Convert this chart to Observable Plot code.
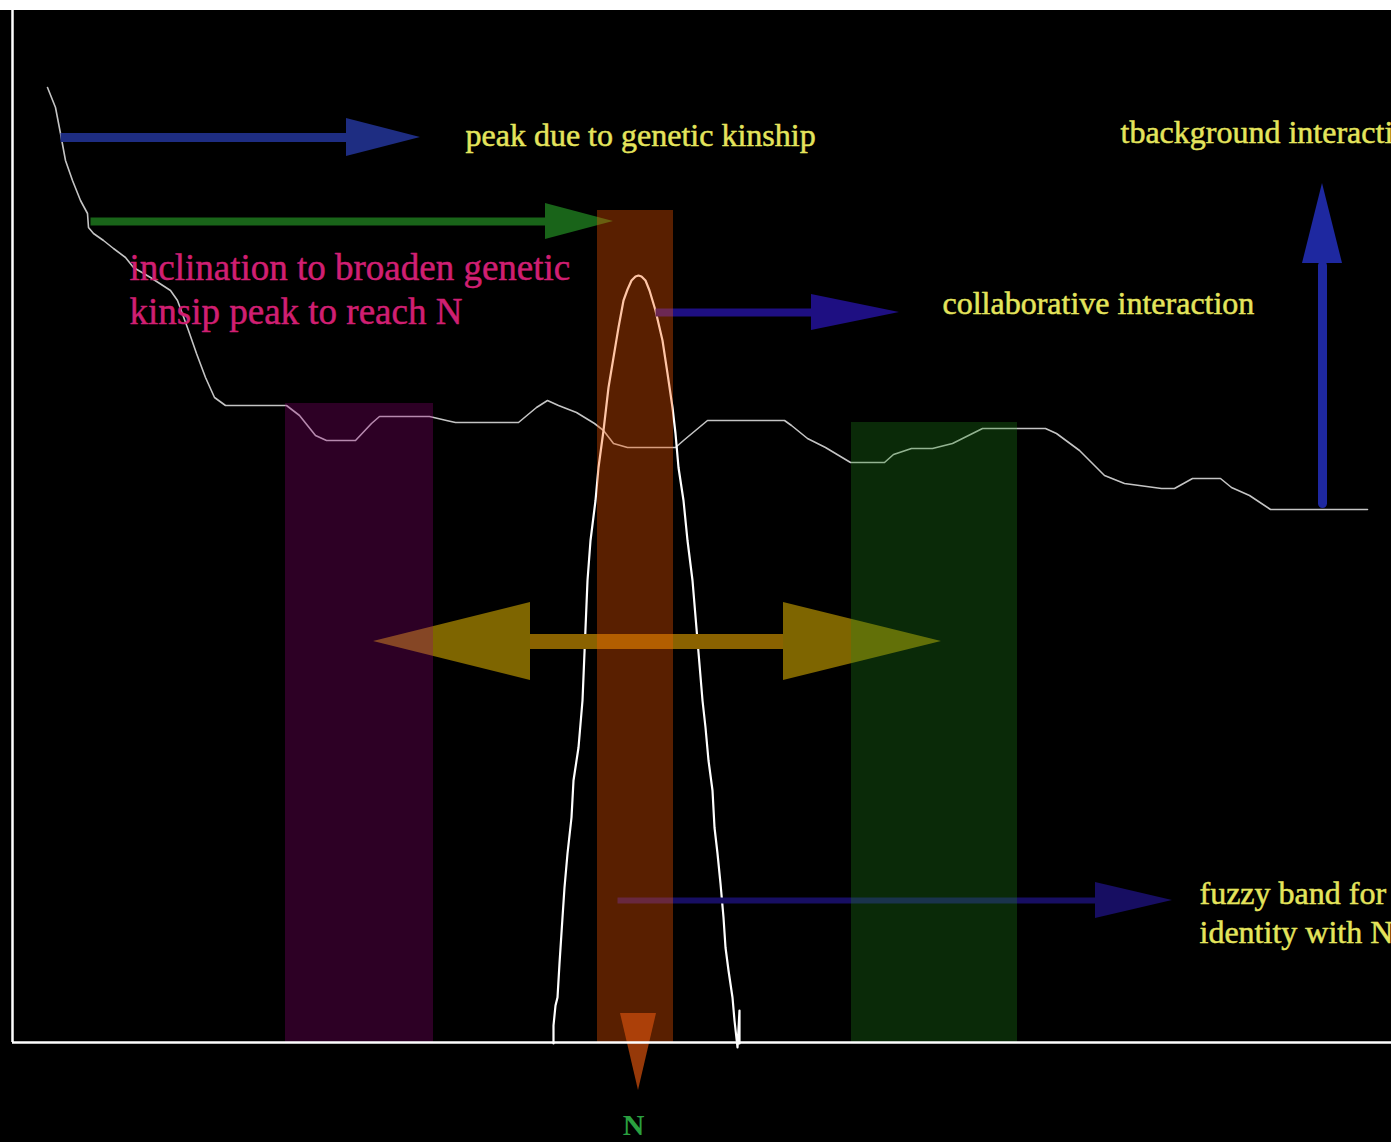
<!DOCTYPE html>
<html>
<head>
<meta charset="utf-8">
<script src="https://cdn.jsdelivr.net/npm/d3@7"></script>
<script src="https://cdn.jsdelivr.net/npm/@observablehq/plot@0.6"></script>
<style>
  html, body { margin: 0; padding: 0; background: #000; }
  #chart svg { display: block; }
</style>
</head>
<body>
<div id="chart"></div>
<script>
// ---- Diagram data (diagram units: x to the right, y downward, axis baseline at 1042) ----
const AXIS_Y = 1042;
const AXIS_X = 12;

// background interaction profile (grey line)
const curveX = [47,55,60,65,72,80,87,88,93,103,113,125,133,150,170,177,188,196,205,214,225,286,299,315,326,355,371,379,429,446,455,518,536,547,558,576,594,603,613,627,675,683,707,784,791,807,825,850,884,893,911,932,952,982,1045,1056,1079,1104,1124,1161,1174,1192,1220,1231,1249,1270,1367];
const curveY = [87,107,133,160,180,200,213,227,233,240,248,257,267,277,290,300,330,353,377,397,405,405,415,435,440,440,423,416,416,420,422,422,407,400,405,412,423,430,443,447,447,440,420,420,425,438,447,462,462,454,448,448,443,428,428,433,450,475,483,488,488,478,478,487,495,509,509];

// genetic kinship peak (white line)
const peakX = [553,553,555,557,559,562,564,567,571,573,578,582,587,590,595,598,603,608,613,618,623,627,631,635,638,641,645,649,655,662,667,672,675,678,683,687,692,697,702,705,708,712,714,717,720,723,725,728,732,734,737,739,739];
const peakY = [1043,1025,1005,997,963,917,887,853,817,780,747,700,580,540,500,467,430,387,357,327,300,289,280,276,275,276,280,290,310,340,373,407,433,467,500,540,580,640,700,727,760,790,827,853,883,917,947,970,997,1020,1047,1010,1043];

// vertical bands
const bandNames = ["kin-band", "N-band", "collab-band"];
const bandX1 = [285, 597, 851];
const bandX2 = [433, 673, 1017];
const bandTop = [403, 210, 422];

// horizontal arrows: tail x, head-base x, tip x, y
const hArrowNames = ["kinship", "broaden", "collab", "fuzzy"];
const hArrowTail = [60, 90, 655, 617];
const hArrowBase = [346, 545, 811, 1095];
const hArrowTip  = [420, 613, 899, 1172];
const hArrowY    = [137, 221, 312, 900];

// vertical arrow (background interaction rising)
const vArrow = {x: 1322, tail: 503, base: 263, tip: 183};

// double-headed arrow (broadening)
const dArrow = {y: 641, leftTip: 373, leftBase: 530, rightBase: 783, rightTip: 941};

// arrow to N on the axis
const nArrow = {x: 638, top: 1013, tip: 1090};

// labels
const yellowLabels = ["peak due to genetic kinship", "tbackground interaction", "collaborative interaction", "fuzzy band for", "identity with N"];
const yellowX = [465, 1120, 942, 1199, 1199];
const yellowY = [145, 142, 313, 903, 942];
const pinkLabels = ["inclination to broaden genetic", "kinsip peak to reach N"];
const pinkX = [129, 129];
const pinkY = [279, 323];
const axisLabel = {text: "N", x: 633, y: 1134};

// ---- styles ----
const bandColors = ["#96007a", "#ff5a00", "#218c1b"];
const bandOpacity = [0.3, 0.35, 0.3];
const hArrowColors = ["#1e2d82", "#196419", "#1e0f82", "#170e62"];
const hArrowShaft = [9, 8, 8, 6];
const hArrowHalf = [19, 18, 18, 18];

// ---- build tables ----
const curve = curveX.map((x, i) => ({x, y: curveY[i]}));
const peak = peakX.map((x, i) => ({x, y: peakY[i]}));
const bands = bandNames.map((name, i) => ({name, x1: bandX1[i], x2: bandX2[i], y1: bandTop[i], y2: AXIS_Y, color: bandColors[i], op: bandOpacity[i]}));

const marks = [];
marks.push(Plot.line(curve, {x: "x", y: "y", stroke: "#c4c4c4", strokeWidth: 1.6}));
marks.push(Plot.line(peak, {x: "x", y: "y", stroke: "#ffffff", strokeWidth: 2.2, curve: "linear"}));

// horizontal arrows
hArrowNames.forEach((name, i) => {
  const y = hArrowY[i];
  marks.push(Plot.line([{x: hArrowTail[i], y}, {x: hArrowBase[i] + 2, y}], {x: "x", y: "y", stroke: hArrowColors[i], strokeWidth: hArrowShaft[i], strokeLinecap: "butt"}));
  marks.push(Plot.areaY([{x: hArrowBase[i], y1: y - hArrowHalf[i], y2: y + hArrowHalf[i]}, {x: hArrowTip[i], y1: y, y2: y}], {x: "x", y1: "y1", y2: "y2", fill: hArrowColors[i]}));
});

// vertical arrow
marks.push(Plot.line([{x: vArrow.x, y: vArrow.tail}, {x: vArrow.x, y: vArrow.base + 2}], {x: "x", y: "y", stroke: "#1e28a0", strokeWidth: 9}));
marks.push(Plot.areaX([{y: vArrow.base, x1: vArrow.x - 20, x2: vArrow.x + 20}, {y: vArrow.tip, x1: vArrow.x, x2: vArrow.x}], {y: "y", x1: "x1", x2: "x2", fill: "#1e28a0"}));

// double arrow
const dCol = "#7e6500";
marks.push(Plot.line([{x: dArrow.leftBase - 2, y: dArrow.y}, {x: dArrow.rightBase + 2, y: dArrow.y}], {x: "x", y: "y", stroke: "#8a6200", strokeWidth: 15}));
marks.push(Plot.areaY([{x: dArrow.leftTip, y1: dArrow.y, y2: dArrow.y}, {x: dArrow.leftBase, y1: dArrow.y - 39, y2: dArrow.y + 39}], {x: "x", y1: "y1", y2: "y2", fill: dCol}));
marks.push(Plot.areaY([{x: dArrow.rightBase, y1: dArrow.y - 39, y2: dArrow.y + 39}, {x: dArrow.rightTip, y1: dArrow.y, y2: dArrow.y}], {x: "x", y1: "y1", y2: "y2", fill: dCol}));

// translucent bands over everything drawn so far
marks.push(Plot.rect(bands, {x1: "x1", x2: "x2", y1: "y1", y2: "y2", fill: "color", fillOpacity: "op"}));

// arrow to N
marks.push(Plot.areaX([{y: nArrow.top, x1: nArrow.x - 18, x2: nArrow.x + 18}, {y: nArrow.tip, x1: nArrow.x, x2: nArrow.x}], {y: "y", x1: "x1", x2: "x2", fill: "#c84c0c", fillOpacity: 0.75}));

// frame: top strip and axes
marks.push(Plot.rect([{x1: 0, x2: 1391, y1: 0, y2: 10}], {x1: "x1", x2: "x2", y1: "y1", y2: "y2", fill: "#ffffff"}));
marks.push(Plot.ruleX([AXIS_X], {y1: 10, y2: AXIS_Y, stroke: "#ffffff", strokeWidth: 2.5}));
marks.push(Plot.ruleY([AXIS_Y], {x1: AXIS_X, x2: 1391, stroke: "#ffffff", strokeWidth: 2.5}));

// labels
const yellow = yellowLabels.map((text, i) => ({text, x: yellowX[i], y: yellowY[i]}));
const pink = pinkLabels.map((text, i) => ({text, x: pinkX[i], y: pinkY[i]}));
marks.push(Plot.text(yellow, {x: "x", y: "y", text: "text", textAnchor: "start", lineAnchor: "bottom", fill: "#e4e45c", stroke: "#e4e45c", strokeWidth: 0.5, fontSize: 32, fontFamily: "Liberation Serif"}));
marks.push(Plot.text(pink, {x: "x", y: "y", text: "text", textAnchor: "start", lineAnchor: "bottom", fill: "#d01f72", stroke: "#d01f72", strokeWidth: 0.5, fontSize: 37, fontFamily: "Liberation Serif"}));
marks.push(Plot.text([axisLabel], {x: "x", y: "y", text: "text", textAnchor: "middle", lineAnchor: "bottom", fill: "#2aa040", fontSize: 30, fontWeight: "bold", fontFamily: "Liberation Serif"}));

const chart = Plot.plot({
  width: 1391,
  height: 1142,
  margin: 0,
  x: {domain: [0, 1391], axis: null},
  y: {domain: [0, 1142], reverse: true, axis: null},
  style: {background: "#000000", overflow: "hidden"},
  marks
});
document.getElementById("chart").appendChild(chart);
</script>
</body>
</html>
